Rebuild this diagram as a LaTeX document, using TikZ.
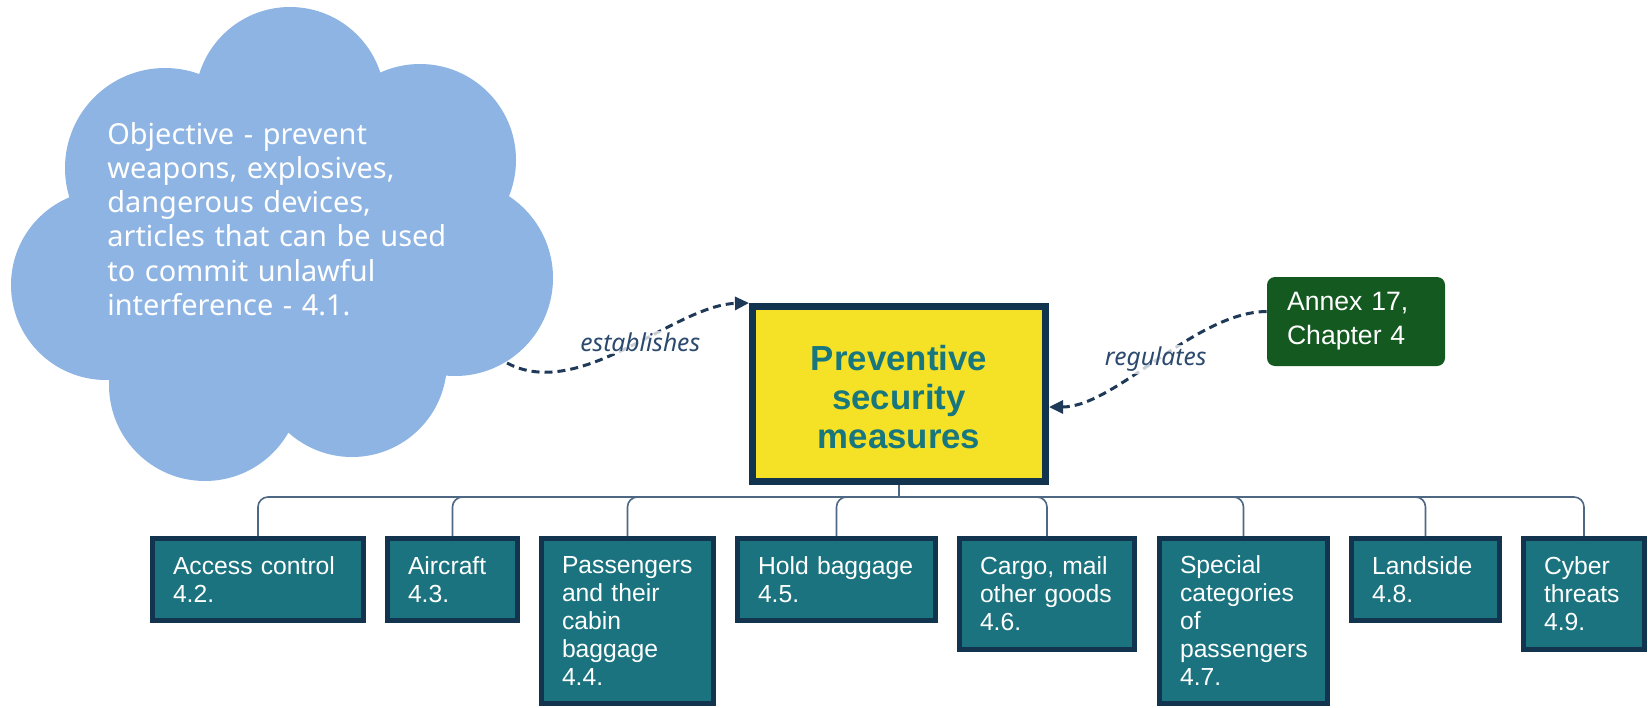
\documentclass[tikz,border=0pt]{standalone}
\usepackage{fontspec}
\setmainfont{Liberation Sans}
\newfontfamily\cloudfont{Noto Sans}
\usetikzlibrary{arrows.meta,calc}

\definecolor{cloudblue}{HTML}{8EB4E3}
\definecolor{navy}{HTML}{12344F}
\definecolor{tealbox}{HTML}{1A737E}
\definecolor{yellowbox}{HTML}{F5E125}
\definecolor{tealtext}{HTML}{17767E}
\definecolor{greenbox}{HTML}{145A20}
\definecolor{linkcol}{HTML}{1E3A58}
\definecolor{labelcol}{HTML}{2C4A6E}
\definecolor{treecol}{HTML}{4E6782}

\begin{document}
\begin{tikzpicture}[x=0.5pt,y=0.5pt,
  topic/.style={draw=navy, line width=2.5pt, fill=tealbox, text=white,
    align=left, anchor=north west, inner xsep=10.25pt, inner ysep=0pt,
    font=\fontsize{12.35}{14}\selectfont},
  mainbox/.style={draw=navy, line width=3.5pt, fill=yellowbox, text=tealtext,
    align=center, minimum width=146.5pt, minimum height=87.5pt,
    font=\bfseries\fontsize{17.4}{19.7}\selectfont},
  sourcebox/.style={fill=greenbox, rounded corners=4pt, text=white, align=left,
    text width=69pt, inner xsep=10pt, minimum height=44.5pt,
    font=\fontsize{13.3}{17}\selectfont},
  cloudtext/.style={anchor=north west, inner sep=0pt, text width=180pt,
    align=left, text=white, font=\cloudfont\fontsize{14.45}{17.1}\selectfont},
  link/.style={draw=linkcol, line width=1.5pt, dash pattern=on 4pt off 2.5pt,
    -{Triangle[length=7pt,width=6.5pt]}},
  linklabel/.style={font=\cloudfont\itshape\fontsize{12.3}{14}\selectfont,
    text=labelcol, fill=white, fill opacity=0.75, text opacity=1, inner sep=1pt},
  treeline/.style={draw=treecol, line width=0.8pt},
  branch/.style={treeline, rounded corners=5pt}
]
\useasboundingbox (0,0) rectangle (1648,-707);

% cloud made of overlapping discs
\fill[cloudblue]
  (300,-260) circle (170)
  (290,-102) circle (95)
  (420,-160) circle (96)
  (455,-278) circle (98)
  (352,-362) circle (95)
  (205,-385) circle (96)
  (106,-285) circle (95)
  (165,-168) circle (100);

\node[cloudtext] (obj) at (107,-122)
  {Objective - prevent\\weapons, explosives,\\dangerous devices,\\articles that can be used\\to commit unlawful\\interference - 4.1.};
\coordinate (objrim) at (507,-363);

% central topic and its source
\node[mainbox] (ps) at (899,-394) {\rule{0pt}{15.6pt}Preventive\\security\\measures};
\node[sourcebox] (ann) at (1356,-321.5) {Annex 17,\\Chapter 4};

% sub-topics
\node[topic, text width=85pt,   minimum height=41pt]   (c1) at (150,-536)  {Access control\\4.2.};
\node[topic, text width=44.5pt, minimum height=41pt]   (c2) at (385,-536)  {Aircraft\\4.3.};
\node[topic, text width=65.5pt, minimum height=82.5pt] (c3) at (539,-536)  {Passengers\\and their\\cabin\\baggage\\4.4.};
\node[topic, text width=78.5pt, minimum height=41pt]   (c4) at (735,-536)  {Hold baggage\\4.5.};
\node[topic, text width=67pt,   minimum height=55.5pt] (c5) at (957,-536)  {Cargo, mail\\other goods\\4.6.};
\node[topic, text width=63.5pt, minimum height=82.5pt] (c6) at (1157,-536) {Special\\categories\\of\\passengers\\4.7.};
\node[topic, text width=53.5pt, minimum height=41pt]   (c7) at (1349,-536) {Landside\\4.8.};
\node[topic, text width=40pt,   minimum height=55.5pt] (c8) at (1521,-536) {Cyber\\threats\\4.9.};

% tree connectors
\coordinate (bus) at (899,-497);
\draw[treeline] (ps.south) -- (bus);
\foreach \c in {c1,c2,c3,c4,c5,c6,c7,c8}
  \draw[branch] (bus) -| (\c.north);

% labelled relations
\draw[link] (objrim) .. controls (580,-402) and (675,-305) .. (ps.north west)
  node[linklabel, pos=0.55] {establishes};
\draw[link] ($(ann.west)+(0,10)$) .. controls (1195,-312) and (1115,-407) .. ($(ps.east)+(0,-13)$)
  node[linklabel, pos=0.5] {regulates};
\end{tikzpicture}
\end{document}
